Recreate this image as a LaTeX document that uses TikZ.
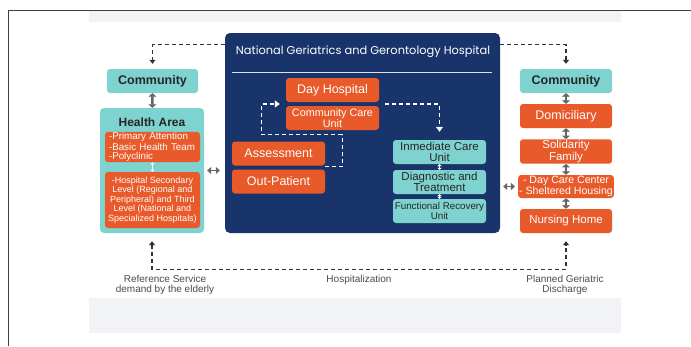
\documentclass[tikz,border=0pt]{standalone}
\usepackage{fontspec}
\setmainfont{Liberation Sans}
\newfontfamily\titlefont{Poppins}
\usepackage{tikz}
\usetikzlibrary{positioning, calc, arrows.meta}

\definecolor{navy}{HTML}{18346A}
\definecolor{orng}{HTML}{E85A2A}
\definecolor{tealc}{HTML}{7ED3D0}
\definecolor{panel}{HTML}{F2F3F7}

\newcommand{\fbig}{\fontsize{12.5}{13}\selectfont}
\newcommand{\fmid}{\fontsize{10.8}{10}\selectfont}
\newcommand{\fteal}{\fontsize{11.5}{10.6}\selectfont}
\newcommand{\fsm}{\fontsize{9.8}{9}\selectfont}
\newcommand{\fxs}{\fontsize{9}{8.2}\selectfont}
\newcommand{\flbl}{\fontsize{10}{9.8}\selectfont}

\begin{document}
\begin{tikzpicture}[x=1pt, y=-1pt,
  box/.style={rounded corners=3pt, align=center, inner sep=1pt, minimum width=93pt, minimum height=24pt},
  orangebox/.style={box, fill=orng, text=white},
  tealbox/.style={box, fill=tealc, text=black!85},
  dashline/.style={dash pattern=on 4pt off 3pt, line width=1.2pt, draw=black!80},
  dtip/.tip={Triangle[length=4pt, width=6pt]},
  vdbl/.style={{Triangle[length=3.5pt, width=8pt]}-{Triangle[length=3.5pt, width=8pt]}, line width=2.6pt, draw=black!60},
  wdbl/.style={{Triangle[length=2pt, width=4.5pt]}-{Triangle[length=2pt, width=4.5pt]}, line width=1.2pt, draw=white},
  hdbl/.style={{Triangle[length=4pt, width=7pt]}-{Triangle[length=4pt, width=7pt]}, line width=1.5pt, draw=black!60}]

	% page and panel
	\useasboundingbox (0,0) rectangle (691,346);
	\fill[panel] (89,11) rectangle (621,333);
	\fill[white] (89,22) rectangle (621,298);
	\draw[black!75, line width=0.8pt] (8,346) -- (8,10) -- (691,10);

	% hospital
	\node[fill=navy, rounded corners=5pt, minimum width=275pt, minimum height=200pt] (hosp) at (362.5,133) {};
	\node[text=white, font=\titlefont\fontsize{11.4}{12}\selectfont] (title) at (363,52) {National Geriatrics and Gerontology Hospital};
	\draw[white!85!navy, line width=1pt] (232,72) -- (492,72);

	\node[orangebox, font=\fbig] (dh) at (332.5,90) {Day Hospital};
	\node[orangebox, font=\fmid] (ccu) at (332.5,118) {Community Care\\Unit};
	\node[orangebox, font=\fbig] (assess) at (278.5,153.5) {Assessment};
	\node[orangebox, font=\fbig] (outp) at (278.5,181.5) {Out-Patient};

	\node[tealbox, font=\fteal] (icu) at (439.5,152) {Inmediate Care\\Unit};
	\node[tealbox, font=\fteal] (diag) at (439.5,182) {Diagnostic and\\Treatment};
	\node[tealbox, font=\fsm] (fru) at (439.5,211) {Functional Recovery\\Unit};

	\coordinate (gapL) at ($(dh.south west)!.5!(ccu.north west)$);
	\coordinate (gapR) at ($(dh.south east)!.5!(ccu.north east)$);

	\draw[dashline, draw=white, -{Triangle[length=5pt, width=7pt]}] ([yshift=-1pt]assess.south east) -- ++(17,0) -- ++(0,-32) -| ([xshift=-24pt]gapL) -- ([xshift=-6pt]gapL);
	\draw[dashline, draw=white, -{Triangle[length=5pt, width=7pt]}] ([xshift=6pt]gapR) -| ([yshift=8pt]icu.north);
	\draw[wdbl] (icu) -- (diag);
	\draw[wdbl] (diag) -- (fru);

	% left side
	\node[tealbox, minimum width=91pt, font=\bfseries\fbig] (commL) at (152.5,81) {Community};
	\node[fill=tealc, rounded corners=4pt, minimum width=104pt, minimum height=125pt] (haBox) at (152,170.5) {};
	\node[font=\bfseries\fontsize{12}{13}\selectfont, text=black!85] (haLbl) at (152,122) {Health Area};
	\node[orangebox, minimum width=95pt, minimum height=30pt, align=left, text width=87pt, font=\fsm] (pa) at (152.5,147) {-Primary Attention\\-Basic Health Team\\-Polyclinic};
	\node[orangebox, minimum width=95pt, minimum height=56pt, font=\fxs] (hs) at (152.5,200) {-Hospital Secondary\\Level (Regional and\\Peripheral) and Third\\Level (National and\\Specialized Hospitals)};
	\draw[vdbl] (commL) -- (haBox);
	\draw[wdbl] (pa) -- (hs);
	\draw[hdbl] ([xshift=3pt]haBox.east) -- ([xshift=-5pt]haBox.east -| hosp.west);

	% right side
	\node[tealbox, minimum width=92pt, font=\bfseries\fbig] (commR) at (566,81) {Community};
	\node[orangebox, minimum width=92pt, font=\fbig] (dom) at (566,116) {Domiciliary};
	\node[orangebox, minimum width=92pt, minimum height=23pt, font=\fteal] (sol) at (566,151.5) {Solidarity\\Family};
	\node[orangebox, minimum width=92pt, minimum height=23pt, font=\fontsize{10.6}{9.8}\selectfont] (dcc) at (566,186.5) {- Day Care Center\\- Sheltered Housing};
	\node[orangebox, minimum width=92pt, font=\fontsize{11.5}{12}\selectfont] (nh) at (566,221) {Nursing Home};
	\draw[vdbl] (commR) -- (dom);
	\draw[vdbl] (dom) -- (sol);
	\draw[vdbl] (sol) -- (dcc);
	\draw[vdbl] (dcc) -- (nh);
	\draw[hdbl] ([xshift=3pt]dcc.west -| hosp.east) -- ([xshift=-3pt]dcc.west);

	% flows round the hospital
	\draw[dashline, -{dtip}] ([yshift=-12pt]hosp.north west) -| ([yshift=5pt]commL.north);
	\draw[dashline, -{dtip}] ([yshift=-12pt]hosp.north east) -| ([yshift=5pt]commR.north);
	\draw[dashline, {dtip}-{dtip}] ([yshift=-8pt]haBox.south) -- ++(0,28) -| ([yshift=-8pt]nh.south);

	\node[font=\flbl, text=black!70, align=center] (refLbl) at (165,285) {Reference Service\\demand by the elderly};
	\node[font=\flbl, text=black!70] (hospLbl) at (359,280) {Hospitalization};
	\node[font=\flbl, text=black!70, align=center] (dischLbl) at (565,285) {Planned Geriatric\\Discharge};
\end{tikzpicture}
\end{document}
